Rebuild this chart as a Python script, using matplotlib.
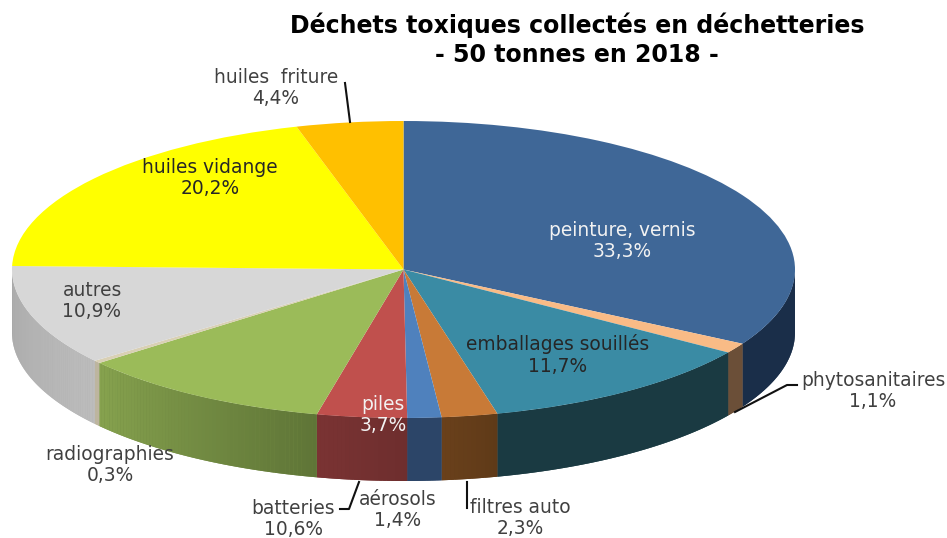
import matplotlib
matplotlib.use("Agg")
import matplotlib.pyplot as plt
from matplotlib.collections import PolyCollection
import numpy as np

labels = ["peinture, vernis", "phytosanitaires", "emballages souillés", "filtres auto",
          "aérosols", "piles", "batteries", "radiographies", "autres",
          "huiles vidange", "huiles  friture"]
values = [33.3, 1.1, 11.7, 2.3, 1.4, 3.7, 10.6, 0.3, 10.9, 20.2, 4.4]

# colours of the top, then the wall going left to right
top_colors = ["#3f6797", "#f9bb86", "#3a8ba4", "#c87a37", "#4f81bd", "#c0504d",
              "#9bbb59", "#d9d0b5", "#d7d7d7", "#ffff00", "#ffc000"]
wall_left = ["#1a2e49", "#6b4f38", "#1a3a42", "#6a401b", "#2c4568", "#7a3333",
             "#86a24e", "#bdb59f", "#a9a9a9", "#a9a9a9", "#a9a9a9"]
wall_right = ["#1a2e49", "#6b4f38", "#1a3a42", "#5f3a18", "#2c4568", "#6e2e2e",
              "#5f7537", "#bdb59f", "#bcbcbc", "#a9a9a9", "#a9a9a9"]

# label centres in image pixels
label_xy = [(622, 241), (873, 391), (558, 355), (520, 518), (398, 510), (383, 415),
            (293, 519), (110, 465), (92, 301), (210, 178), (276, 88)]
label_colors = ["#f2f2f2", "#404040", "#262626", "#404040", "#404040", "#f2f2f2",
                "#404040", "#404040", "#404040", "#262626", "#404040"]

W, H = 947, 538
left, right, top, bottom = 12, 795, 121, 418
depth = 63 / ((bottom - top) / 2)

fig = plt.figure(figsize=(W / 100, H / 100), dpi=100, facecolor="white")
ax = fig.add_axes([left / W, 1 - bottom / H, (right - left) / W, (bottom - top) / H])

wedges, _ = ax.pie(values, colors=top_colors, startangle=90, counterclock=False,
                   radius=1, wedgeprops={"linewidth": 0})
ax.set_aspect("auto")
ax.set_xlim(-1, 1)
ax.set_ylim(-1, 1)


def hex2rgb(c):
    return np.array(matplotlib.colors.to_rgb(c))


# front walls: one solid piece per slice, thin strips above it for the gradient
edges = np.concatenate([[0], np.cumsum(values)]) / sum(values) * 2 * np.pi
solids = []
solid_colors = []
quads = []
quad_colors = []
for i in range(len(values)):
    a0 = max(edges[i], np.pi / 2)
    a1 = min(edges[i + 1], 3 * np.pi / 2)
    if a1 <= a0:
        continue
    steps = max(2, int((a1 - a0) / 0.01))
    angs = np.linspace(a0, a1, steps)
    xs = np.sin(angs)
    ys = np.cos(angs)
    c_r = hex2rgb(wall_right[i])
    c_l = hex2rgb(wall_left[i])
    solids.append(list(zip(xs, ys)) + list(zip(xs[::-1], ys[::-1] - depth)))
    solid_colors.append((c_r + c_l) / 2)
    for j in range(steps - 1):
        quads.append([(xs[j], ys[j]), (xs[j + 1], ys[j + 1]),
                      (xs[j + 1], ys[j + 1] - depth), (xs[j], ys[j] - depth)])
        t = j / max(1, steps - 2)
        quad_colors.append(c_r * (1 - t) + c_l * t)
ax.add_collection(PolyCollection(solids, facecolors=solid_colors, edgecolors="none",
                                 zorder=0.4, clip_on=False))
ax.add_collection(PolyCollection(quads, facecolors=quad_colors, edgecolors="none",
                                 linewidths=0, zorder=0.5, clip_on=False))

# overlay in pixel coordinates for text and leader lines
over = fig.add_axes([0, 0, 1, 1], facecolor="none")
over.set_xlim(0, W)
over.set_ylim(H, 0)
over.axis("off")

for name, val, (x, y), col in zip(labels, values, label_xy, label_colors):
    txt = name + "\n" + f"{val:.1f}%".replace(".", ",")
    over.text(x, y, txt, ha="center", va="center", fontsize=13.4, color=col,
              linespacing=1.16, family="DejaVu Sans")

over.text(577, 40, "Déchets toxiques collectés en déchetteries\n- 50 tonnes en 2018 -",
          ha="center", va="center", fontsize=17, fontweight="bold", color="black",
          linespacing=1.25, family="DejaVu Sans")

over.plot([735, 787, 797], [412, 385, 385], color="#111111", lw=1.5)
over.plot([359, 349, 340], [482, 509, 509], color="#111111", lw=1.5)
over.plot([467, 467], [482, 508], color="#111111", lw=1.5)
over.plot([345, 350], [83, 122], color="#111111", lw=1.5)

fig.savefig("out.png", dpi=100)
